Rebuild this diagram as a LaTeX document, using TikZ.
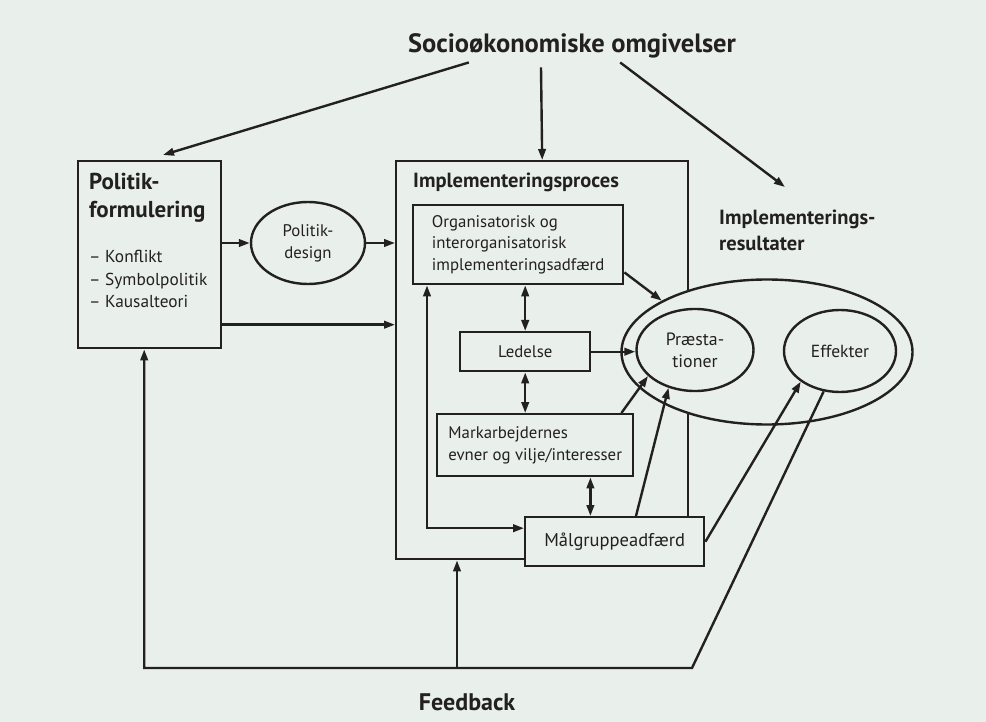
\documentclass[tikz,border=0pt]{standalone}
\usepackage{fontspec}
\setmainfont{PT Sans}
\usetikzlibrary{arrows.meta,shapes.geometric}
\definecolor{paper}{RGB}{233,239,235}
\definecolor{ink}{RGB}{35,32,32}

\begin{document}
\begin{tikzpicture}[x=1pt,y=-1pt,line width=2.4pt,color=ink,
  box/.style={draw,fill=paper,rectangle,inner sep=0pt,anchor=north west},
  oval/.style={draw,fill=paper,ellipse,inner sep=0pt},
  arr/.style={-{Triangle[length=11pt,width=7.5pt]}},
  arrs/.style={{Triangle[length=11pt,width=7.5pt]}-{Triangle[length=11pt,width=7.5pt]}},
  txt/.style={font=\fontsize{16.8}{21.8}\selectfont,align=left,inner sep=0pt},
  head/.style={font=\bfseries\fontsize{20.5}{26}\selectfont,align=left,inner sep=0pt}]

\fill[paper] (0,0) rectangle (986,722);

\node[inner sep=0pt,font=\bfseries\fontsize{26.5}{30}\selectfont] (socio) at (572,46) {Socioøkonomiske omgivelser};

% politik
\node[box,minimum width=143,minimum height=187] (pol) at (77,160) {};
\node[head,font=\bfseries\fontsize{23}{28}\selectfont,anchor=north west] (polhead) at (88,172) {Politik-\\formulering};
\node[txt,font=\fontsize{17.3}{22.5}\selectfont,anchor=north west] (politems) at (88,249) {-- Konflikt\\-- Symbolpolitik\\-- Kausalteori};
\node[oval,txt,align=center,minimum width=114,minimum height=82] (pdes) at (308,243) {Politik-\\design};

% implementeringsproces
\node[box,minimum width=292,minimum height=398] (impl) at (395,160) {};
\node[head,anchor=north west] (implhead) at (412,172) {Implementeringsproces};
\node[box,txt,minimum width=210,minimum height=79] (org) at (412,204) {Organisatorisk og\\interorganisatorisk\\implementeringsadfærd};
\node[box,txt,minimum width=130,minimum height=39] (led) at (459,331) {Ledelse};
\node[box,txt,minimum width=196,minimum height=62] (mark) at (436,413) {Markarbejdernes\\evner og vilje/interesser};

% resultater
\node[head,anchor=north west] (reslbl) at (718,209) {Implementerings-\\resultater};
\node[oval,minimum width=291,minimum height=145] (res) at (767,352) {};
\node[oval,txt,font=\fontsize{17.8}{22}\selectfont,align=center,minimum width=117,minimum height=82] (praes) at (695,350) {Præsta-\\tioner};
\node[oval,txt,font=\fontsize{17.5}{22}\selectfont,minimum width=112,minimum height=82] (eff) at (840,351) {Effekter};

\node[box,txt,font=\fontsize{18.5}{22}\selectfont,minimum width=179,minimum height=49] (maal) at (524,516) {Målgruppeadfærd};
\node[inner sep=0pt,font=\bfseries\fontsize{24}{28}\selectfont] (fb) at (467,702) {Feedback};

\draw[arr] ([xshift=62pt,yshift=-3pt]socio.south west) -- ([xshift=86pt,yshift=5pt]pol.north west);
\draw[arr] ([xshift=-31pt,yshift=-8pt]socio.south) -- (impl.north);
\draw[arr] ([xshift=-117pt,yshift=-3pt]socio.south east) -- ([xshift=67pt,yshift=22pt]reslbl.north west);

\draw[arr] (pol.east |- pdes.west) -- (pdes.west);
\draw[arr] (pdes.east) -- (pdes.east -| impl.west);
\draw[arr] ([yshift=-70pt]pol.east) coordinate (pol2) -- (pol2 -| impl.west);

\draw[arr] ([yshift=13pt]org.south east) -- (res.154);
\draw[arrs] (led.north) -- (led.north |- org.south);
\draw[arrs] (led.south) -- (led.south |- mark.north);
\draw[arr] (led.east) -- (led.east -| praes.west);
\draw[arrs] ([xshift=-44pt]mark.south east) coordinate (mk) -- (mk |- maal.north);
\draw[arr] ([xshift=-13pt]mark.north east) -- (praes.209);
\draw[arr] ([xshift=112pt]maal.north west) -- (praes.235);
\draw[arr] (maal.east) -- (eff.218);
\draw[arrs] ([xshift=15pt]org.south west) |- ([yshift=13.5pt]maal.west);

% feedback
\coordinate (fbr) at (692,668);
\coordinate (fbup) at (457,668);
\draw[arr] (eff.248) -- (fbr) -| ([xshift=-5.5pt]pol.south);
\draw[arr] (fbup) -- (fbup |- impl.south);
\end{tikzpicture}
\end{document}
